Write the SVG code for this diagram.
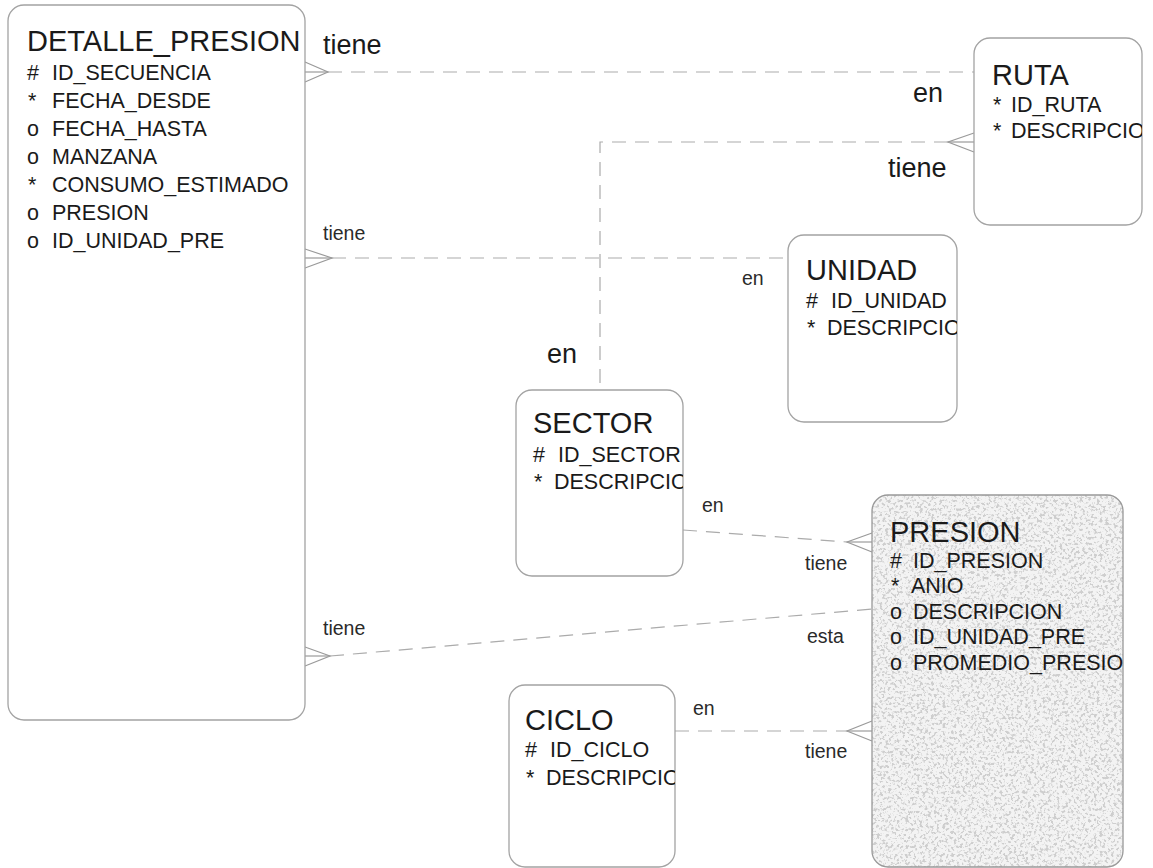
<svg xmlns="http://www.w3.org/2000/svg" width="1153" height="868" viewBox="0 0 1153 868">
<style>
  .box { fill: #ffffff; stroke: #a3a3a3; stroke-width: 1.3; }
  .title { font-family: "Liberation Sans", Arial, sans-serif; font-size: 29px; fill: #1a1a1a; }
  .attr { font-family: "Liberation Sans", Arial, sans-serif; font-size: 21.5px; fill: #1a1a1a; }
  .lbl { font-family: "Liberation Sans", Arial, sans-serif; font-size: 19.5px; fill: #2a2a2a; }
  .lblL { font-family: "Liberation Sans", Arial, sans-serif; font-size: 27px; fill: #1a1a1a; }
  .rel { fill: none; stroke: #ababab; stroke-width: 1.2; stroke-dasharray: 14 9; }
  .foot { fill: none; stroke: #9a9a9a; stroke-width: 1.2; }
</style>
<defs>
  <clipPath id="cRuta"><rect x="974" y="38" width="168" height="187" rx="16"/></clipPath>
  <clipPath id="cUnidad"><rect x="788" y="235" width="169" height="187" rx="16"/></clipPath>
  <clipPath id="cSector"><rect x="516" y="390" width="167" height="186" rx="16"/></clipPath>
  <clipPath id="cPresion"><rect x="872" y="495" width="251" height="372" rx="16"/></clipPath>
  <clipPath id="cCiclo"><rect x="509" y="685" width="166" height="182" rx="16"/></clipPath>
  <filter id="grain" x="0" y="0" width="100%" height="100%">
    <feTurbulence type="fractalNoise" baseFrequency="0.35" numOctaves="3" seed="7" result="n"/>
    <feColorMatrix in="n" type="matrix" values="0 0 0 0 0.62  0 0 0 0 0.62  0 0 0 0 0.62  7 0 0 0 -3.6" result="specks"/>
    <feComposite in="specks" in2="SourceGraphic" operator="in"/>
  </filter>
</defs>

<g id="connectors">
  <!-- DETALLE_PRESION - RUTA -->
  <line class="rel" x1="328" y1="72" x2="974" y2="72"/>
  <polyline class="foot" points="305,62 328,72 305,82"/>
  <line class="foot" x1="305" y1="72" x2="328" y2="72"/>
  <!-- RUTA - SECTOR -->
  <polyline class="rel" points="948,142 600,142 600,390"/>
  <polyline class="foot" points="974,133 948,142 974,152"/>
  <line class="foot" x1="948" y1="142" x2="974" y2="142"/>
  <!-- DETALLE_PRESION - UNIDAD -->
  <line class="rel" x1="332" y1="258" x2="788" y2="258"/>
  <polyline class="foot" points="305,249 332,258 305,268"/>
  <line class="foot" x1="305" y1="258" x2="332" y2="258"/>
  <!-- SECTOR - PRESION -->
  <line class="rel" x1="683" y1="530" x2="847" y2="542"/>
  <polyline class="foot" points="872,533 847,542 872,552"/>
  <line class="foot" x1="847" y1="542" x2="872" y2="542"/>
  <!-- DETALLE_PRESION - PRESION -->
  <line class="rel" x1="330" y1="656" x2="872" y2="609"/>
  <polyline class="foot" points="305,647 330,656 305,666"/>
  <line class="foot" x1="305" y1="656" x2="330" y2="656"/>
  <!-- CICLO - PRESION -->
  <line class="rel" x1="675" y1="731" x2="847" y2="731"/>
  <polyline class="foot" points="872,721 847,731 872,741"/>
  <line class="foot" x1="847" y1="731" x2="872" y2="731"/>

  <text class="lblL" x="323" y="54">tiene</text>
  <text class="lblL" x="913" y="102">en</text>
  <text class="lblL" x="888" y="177">tiene</text>
  <text class="lblL" x="547" y="363">en</text>
  <text class="lbl" x="323" y="240">tiene</text>
  <text class="lbl" x="742" y="285">en</text>
  <text class="lbl" x="702" y="512">en</text>
  <text class="lbl" x="805" y="570">tiene</text>
  <text class="lbl" x="323" y="635">tiene</text>
  <text class="lbl" x="807" y="643">esta</text>
  <text class="lbl" x="693" y="715">en</text>
  <text class="lbl" x="805" y="758">tiene</text>
</g>

<g id="detalle_presion">
  <rect class="box" x="8" y="5" width="297" height="715" rx="16"/>
  <text class="title" x="27" y="51">DETALLE_PRESION</text>
  <text class="attr" x="27" y="80">#</text><text class="attr" x="52" y="80">ID_SECUENCIA</text>
  <text class="attr" x="28" y="108">*</text><text class="attr" x="52" y="108">FECHA_DESDE</text>
  <text class="attr" x="27" y="136">o</text><text class="attr" x="52" y="136">FECHA_HASTA</text>
  <text class="attr" x="27" y="164">o</text><text class="attr" x="52" y="164">MANZANA</text>
  <text class="attr" x="28" y="192">*</text><text class="attr" x="52" y="192">CONSUMO_ESTIMADO</text>
  <text class="attr" x="27" y="220">o</text><text class="attr" x="52" y="220">PRESION</text>
  <text class="attr" x="27" y="248">o</text><text class="attr" x="52" y="248">ID_UNIDAD_PRE</text>
</g>

<g id="ruta">
  <rect class="box" x="974" y="38" width="168" height="187" rx="16"/>
  <g clip-path="url(#cRuta)">
    <text class="title" x="992" y="85">RUTA</text>
    <text class="attr" x="993" y="112">*</text><text class="attr" x="1011" y="112">ID_RUTA</text>
    <text class="attr" x="993" y="138">*</text><text class="attr" x="1011" y="138">DESCRIPCION</text>
  </g>
</g>

<g id="unidad">
  <rect class="box" x="788" y="235" width="169" height="187" rx="16"/>
  <g clip-path="url(#cUnidad)">
    <text class="title" x="806" y="280">UNIDAD</text>
    <text class="attr" x="806" y="308">#</text><text class="attr" x="831" y="308">ID_UNIDAD</text>
    <text class="attr" x="807" y="335">*</text><text class="attr" x="827" y="335">DESCRIPCION</text>
  </g>
</g>

<g id="sector">
  <rect class="box" x="516" y="390" width="167" height="186" rx="16"/>
  <g clip-path="url(#cSector)">
    <text class="title" x="533" y="433">SECTOR</text>
    <text class="attr" x="533" y="462">#</text><text class="attr" x="558" y="462">ID_SECTOR</text>
    <text class="attr" x="534" y="489">*</text><text class="attr" x="554" y="489">DESCRIPCION</text>
  </g>
</g>

<g id="presion">
  <rect x="872" y="495" width="251" height="372" rx="16" fill="#f3f3f3"/>
  <rect x="872" y="495" width="251" height="372" rx="16" fill="#000" filter="url(#grain)"/>
  <rect x="872" y="495" width="251" height="372" rx="16" fill="none" stroke="#999" stroke-width="1.3"/>
  <g clip-path="url(#cPresion)">
    <text class="title" x="890" y="542">PRESION</text>
    <text class="attr" x="890" y="568">#</text><text class="attr" x="913" y="568">ID_PRESION</text>
    <text class="attr" x="891" y="593">*</text><text class="attr" x="911" y="593">ANIO</text>
    <text class="attr" x="890" y="619">o</text><text class="attr" x="913" y="619">DESCRIPCION</text>
    <text class="attr" x="890" y="644">o</text><text class="attr" x="913" y="644">ID_UNIDAD_PRE</text>
    <text class="attr" x="890" y="670">o</text><text class="attr" x="913" y="670">PROMEDIO_PRESION</text>
  </g>
</g>

<g id="ciclo">
  <rect class="box" x="509" y="685" width="166" height="182" rx="16"/>
  <g clip-path="url(#cCiclo)">
    <text class="title" x="525" y="730">CICLO</text>
    <text class="attr" x="525" y="757">#</text><text class="attr" x="550" y="757">ID_CICLO</text>
    <text class="attr" x="526" y="785">*</text><text class="attr" x="546" y="785">DESCRIPCION</text>
  </g>
</g>
</svg>
